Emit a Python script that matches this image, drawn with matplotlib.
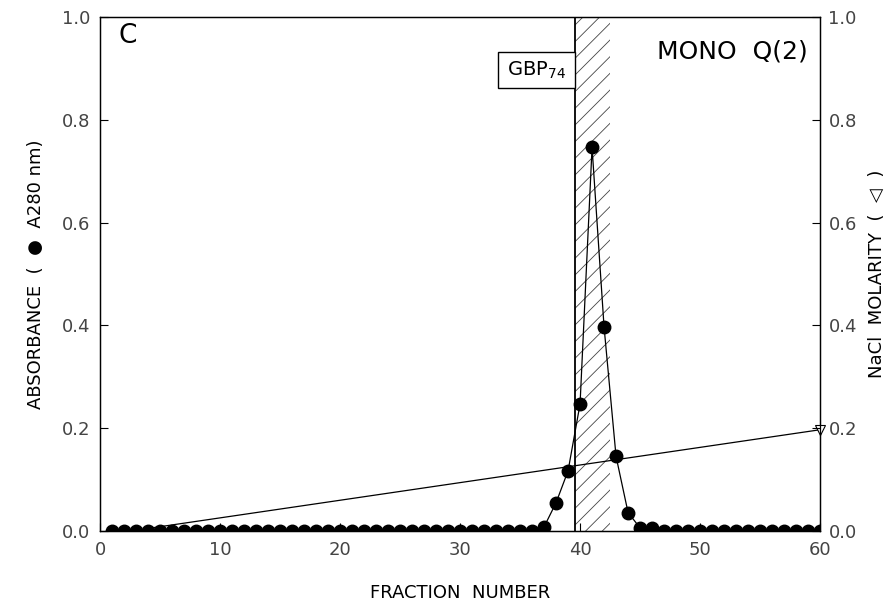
import numpy as np
import matplotlib.pyplot as plt
from matplotlib.patches import Rectangle

# Absorbancja A280 dla frakcji 1..60
fractions = np.arange(1, 61)
absorbance = np.zeros(60)
peak_fr = [37, 38, 39, 40, 41, 42, 43, 44, 45, 46]
peak_abs = [0.008, 0.055, 0.117, 0.247, 0.746, 0.397, 0.145, 0.036, 0.006, 0.006]
for f, a in zip(peak_fr, peak_abs):
    absorbance[f - 1] = a

# Gradient NaCl
nacl_x = [4, 60]
nacl_y = [0.005, 0.197]

# Zakres frakcji GBP74
pool_start, pool_end = 39.6, 42.5

plt.rcParams['hatch.linewidth'] = 0.6
plt.rcParams['hatch.color'] = '#444444'
plt.rcParams['font.family'] = ['DejaVu Sans']

fig = plt.figure(figsize=(8.94, 6.02), dpi=100)
ax = fig.add_axes([0.1119, 0.1179, 0.8054, 0.854])

# zakreskowany obszar
ax.add_patch(Rectangle((pool_start, 0), pool_end - pool_start, 1.0,
                       fill=False, hatch='//', linewidth=0, edgecolor='#444444'))
ax.plot([pool_start, pool_start], [0, 1.0], color='black', lw=1.3)

# ramka z etykieta GBP74
ax.add_patch(Rectangle((33.15, 0.862), pool_start - 33.15, 0.07,
                       facecolor='white', edgecolor='black', lw=1.0, zorder=4))
ax.text((33.15 + pool_start) / 2, 0.897, 'GBP$_{74}$', fontsize=14,
        va='center', ha='center', zorder=5)

ax.plot(fractions, absorbance, '-o', color='black', lw=0.9,
        markersize=9, markerfacecolor='black', zorder=3)
ax.plot(nacl_x, nacl_y, '-', color='black', lw=0.9)
ax.plot(nacl_x[-1:], nacl_y[-1:], 'v', color='black', markerfacecolor='white',
        markersize=7, markeredgewidth=0.8, clip_on=False, zorder=4)

ax.set_xlim(0, 60)
ax.set_ylim(0, 1.0)
ax.set_xticks(range(0, 61, 10))
ax.set_yticks(np.arange(0, 1.01, 0.2))
ax.yaxis.set_major_formatter(plt.FormatStrFormatter('%.1f'))
ax.tick_params(direction='in', length=6, labelsize=13, colors='black',
               labelcolor='#444444', pad=7)

ax2 = ax.twinx()
ax2.set_ylim(0, 1.0)
ax2.set_yticks(np.arange(0, 1.01, 0.2))
ax2.yaxis.set_major_formatter(plt.FormatStrFormatter('%.1f'))
ax2.tick_params(direction='in', length=6, labelsize=13, labelcolor='#444444', pad=6)

for a in (ax, ax2):
    for s in a.spines.values():
        s.set_linewidth(0.9)

ax.set_xlabel('FRACTION  NUMBER', fontsize=13, labelpad=18)
ax.set_ylabel('ABSORBANCE  (  \u25CF  A280 nm)', fontsize=13, labelpad=12)
ax2.set_ylabel('NaCl  MOLARITY  (  \u25C1  )', fontsize=13, labelpad=8)

# teksty
ax.text(1.5, 0.962, 'C', fontsize=19, va='center', ha='left')
ax.text(59, 0.932, 'MONO  Q(2)', fontsize=18, va='center', ha='right')

plt.savefig('out.png', dpi=100)
